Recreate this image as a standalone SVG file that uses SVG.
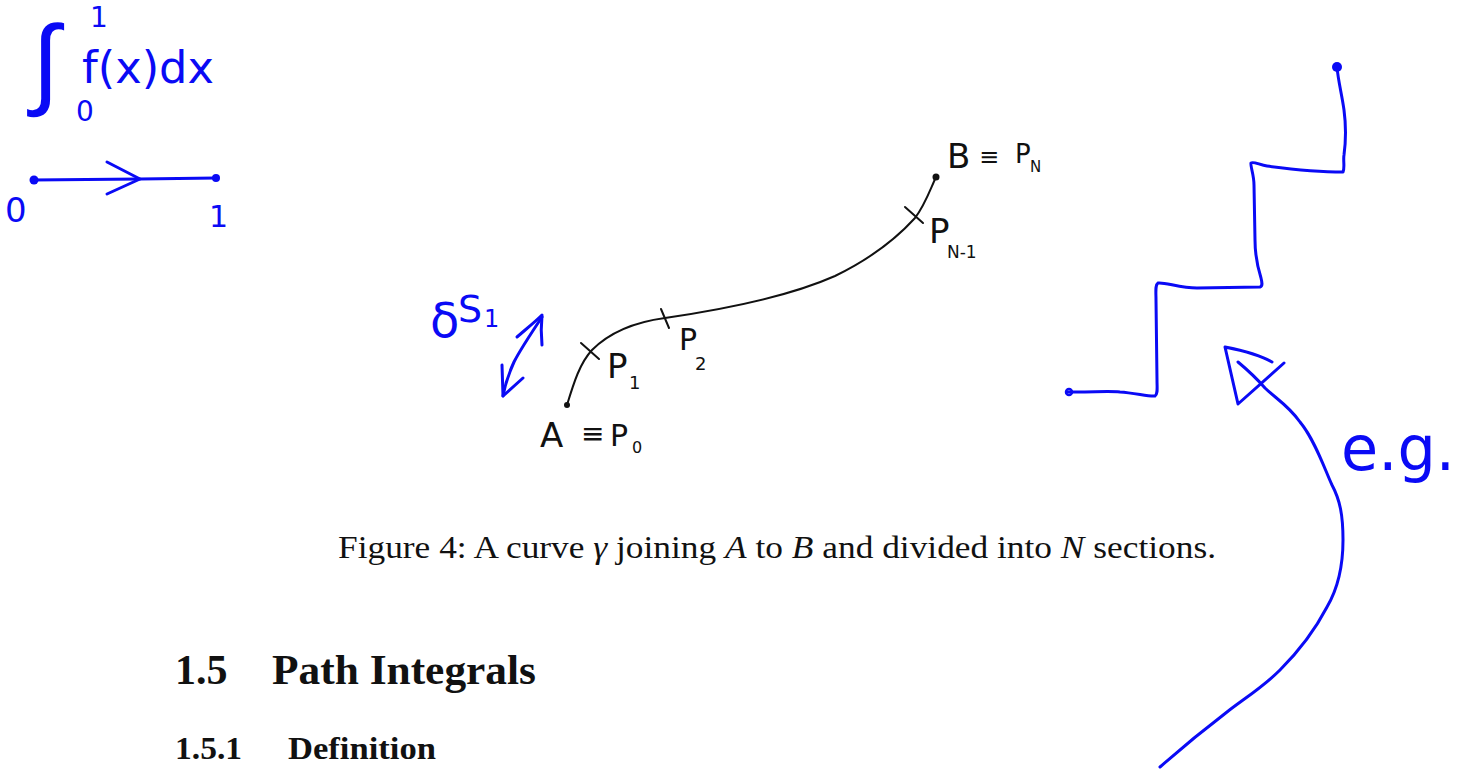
<svg xmlns="http://www.w3.org/2000/svg" width="1469" height="769" viewBox="0 0 1469 769">
<style>
.ink{fill:none;stroke:#0a0af5;stroke-width:3;stroke-linecap:round;stroke-linejoin:round}
.pen{fill:none;stroke:#111;stroke-width:2;stroke-linecap:round;stroke-linejoin:round}
.bh{fill:#0a0af5;font-family:"DejaVu Sans","Liberation Sans",sans-serif}
.kh{fill:#111;font-family:"DejaVu Sans","Liberation Sans",sans-serif}
.tx{fill:#111;font-family:"Liberation Serif","DejaVu Serif",serif}
</style>
<rect width="1469" height="769" fill="#fff"/>

<g id="integral-note">
  <text class="bh" x="32" y="96" font-size="100" font-weight="300">∫</text>
  <text class="bh" x="90" y="27" font-size="28">1</text>
  <text class="bh" x="76" y="121" font-size="28">0</text>
  <text class="bh" x="82" y="83" font-size="44" textLength="132" lengthAdjust="spacingAndGlyphs">f(x)dx</text>
</g>

<g id="number-line">
  <path class="ink" d="M33,180 L140,179 L216,178"/>
  <path class="ink" d="M107,162 L140,179 L107,194"/>
  <circle cx="34" cy="180" r="4.5" fill="#0a0af5"/>
  <circle cx="216" cy="178" r="4" fill="#0a0af5"/>
  <text class="bh" x="5" y="222" font-size="34">0</text>
  <text class="bh" x="209" y="227" font-size="30">1</text>
</g>

<g id="curve-gamma">
  <path class="pen" d="M567,405 C574,382 580,363 592,350 C610,332 635,322 665,318 C720,310 790,296 835,276 C870,259 895,240 915,218 C925,205 930,190 936,177"/>
  <circle cx="567" cy="405" r="3" fill="#111"/>
  <circle cx="936" cy="177" r="3.5" fill="#111"/>
  <path class="pen" d="M581,343 L599,359"/>
  <path class="pen" d="M661,309 L669,328"/>
  <path class="pen" d="M905,207 L923,223"/>
</g>

<g id="label-A">
  <text class="kh" x="540" y="447" font-size="34">A</text>
  <text class="kh" x="581" y="443" font-size="28">≡</text>
  <text class="kh" x="610" y="446" font-size="30">P</text>
  <text class="kh" x="632" y="453" font-size="16">0</text>
</g>
<g id="label-P1">
  <text class="kh" x="607" y="378" font-size="34">P</text>
  <text class="kh" x="629" y="389" font-size="18">1</text>
</g>
<g id="label-P2">
  <text class="kh" x="679" y="350" font-size="30">P</text>
  <text class="kh" x="695" y="370" font-size="18">2</text>
</g>
<g id="label-PN1">
  <text class="kh" x="929" y="243" font-size="34">P</text>
  <text class="kh" x="947" y="258" font-size="17">N-1</text>
</g>
<g id="label-B">
  <text class="kh" x="947" y="168" font-size="34">B</text>
  <text class="kh" x="979" y="165" font-size="24">≡</text>
  <text class="kh" x="1015" y="163" font-size="26">P</text>
  <text class="kh" x="1030" y="172" font-size="15">N</text>
</g>

<g id="delta-s">
  <text class="bh" x="430" y="337" font-size="48">δ</text>
  <text class="bh" x="458" y="322" font-size="38">S</text>
  <text class="bh" x="484" y="327" font-size="24">1</text>
  <path class="ink" d="M542,317 C530,335 520,350 514,362 C508,375 505,385 503,396"/>
  <path class="ink" d="M517,337 C525,330 535,322 542,315 C541,325 541,335 542,345"/>
  <path class="ink" d="M502,365 L503,396 L523,378"/>
</g>

<g id="staircase">
  <path class="ink" d="M1068,392 L1077,392 C1095,392 1110,391 1120,392 C1135,393 1150,397 1155,396 C1158,394 1157,388 1157,380 L1156,300 C1156,292 1155,285 1158,283 C1165,282 1180,288 1197,288 L1260,287 C1263,286 1262,282 1261,278 C1256,262 1255,252 1255,240 L1254,185 C1254,175 1250,165 1251,163 C1253,161 1260,165 1267,166 C1290,169 1320,172 1343,172 C1345,168 1343,160 1344,155 C1346,140 1346,125 1344,110 C1342,95 1338,80 1337,67"/>
  <circle cx="1069" cy="392" r="3" fill="none" stroke="#0a0af5" stroke-width="2.5"/>
  <circle cx="1337" cy="67" r="5" fill="#0a0af5"/>
</g>

<g id="eg-arrow">
  <path class="ink" d="M1272,362 C1260,355 1240,350 1225,347 L1238,404 L1284,363"/>
  <path class="ink" d="M1238,362 C1250,372 1258,380 1265,388 C1275,398 1288,405 1300,422 C1315,440 1325,470 1332,485 C1340,500 1343,515 1343,540 C1343,570 1337,590 1327,607 C1315,630 1300,650 1280,670 C1262,688 1242,700 1227,712 C1210,725 1185,745 1160,767"/>
  <text class="bh" x="1341" y="470" font-size="62" textLength="114" lengthAdjust="spacingAndGlyphs">e.g.</text>
</g>

<g id="caption">
  <text class="tx" x="338" y="558" font-size="32" textLength="878" lengthAdjust="spacingAndGlyphs">Figure 4: A curve <tspan font-style="italic">γ</tspan> joining <tspan font-style="italic">A</tspan> to <tspan font-style="italic">B</tspan> and divided into <tspan font-style="italic">N</tspan> sections.</text>
</g>

<g id="headings">
  <text class="tx" x="175" y="684" font-size="42" font-weight="bold">1.5</text>
  <text class="tx" x="272" y="684" font-size="42" font-weight="bold" textLength="264" lengthAdjust="spacingAndGlyphs">Path Integrals</text>
  <text class="tx" x="175" y="759" font-size="32" font-weight="bold" textLength="67" lengthAdjust="spacingAndGlyphs">1.5.1</text>
  <text class="tx" x="288" y="759" font-size="32" font-weight="bold" textLength="148" lengthAdjust="spacingAndGlyphs">Definition</text>
</g>
</svg>
